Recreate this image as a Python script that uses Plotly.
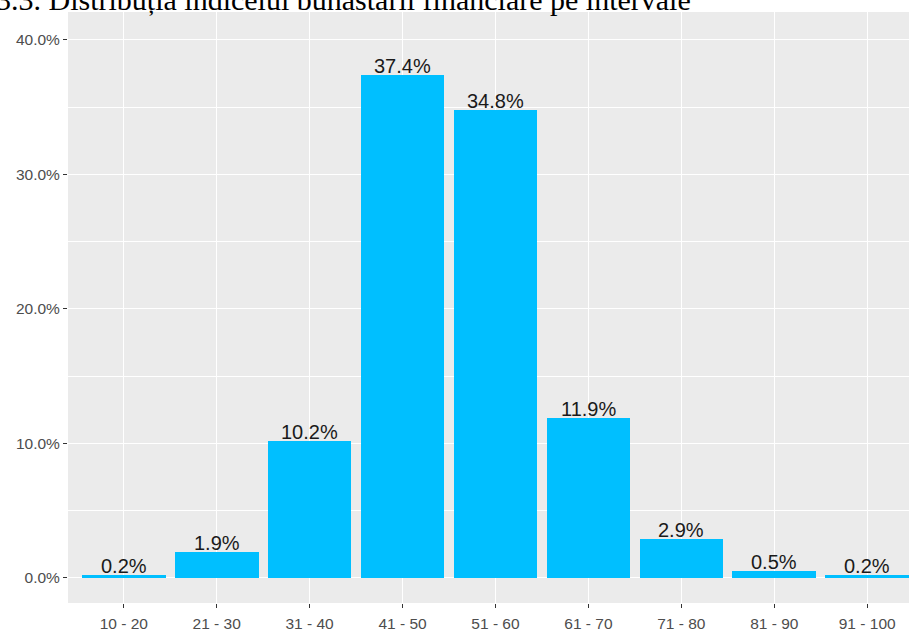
import plotly.graph_objects as go

categories = ["10 - 20", "21 - 30", "31 - 40", "41 - 50", "51 - 60", "61 - 70", "71 - 80", "81 - 90", "91 - 100"]
values = [0.2, 1.9, 10.2, 37.4, 34.8, 11.9, 2.9, 0.5, 0.2]
labels = [f"{v:.1f}%" for v in values]
y_ticks = [0, 10, 20, 30, 40]
y_tick_text = [f"{t:.1f}%" for t in y_ticks]
title_text = "3.3. Distribuția indicelui bunăstării financiare pe intervale"

W, H = 909, 632
L, R, T, B = 68, 0, 12, 29
plot_h = H - T - B
plot_w = W - L - R

fig = go.Figure()
fig.add_trace(go.Bar(
    x=list(range(len(categories))), y=values, width=0.9,
    marker=dict(color="#00BFFF", line=dict(width=0)),
    hoverinfo="skip",
))

for i, (v, lab) in enumerate(zip(values, labels)):
    fig.add_annotation(x=i, y=v, text=lab, showarrow=False, yanchor="bottom",
                       yshift=-4, font=dict(family="Arial, Liberation Sans", size=20, color="#1a1a1a"))

# title (cut off at the top like the reference)
fig.add_annotation(xref="paper", yref="paper", x=(693 - L) / plot_w, y=1 + (T - 18) / plot_h,
                   xanchor="right", yanchor="bottom", showarrow=False, text=title_text,
                   font=dict(family="Liberation Serif, Times New Roman", size=30, color="black"))

fig.update_layout(
    width=W, height=H,
    margin=dict(l=L, r=R, t=T, b=B, pad=0),
    paper_bgcolor="white", plot_bgcolor="#EBEBEB",
    showlegend=False, bargap=0,
    xaxis=dict(range=[-0.6, 8.45], tickmode="array", tickvals=list(range(len(categories))),
               ticktext=categories, showgrid=True, gridcolor="white", gridwidth=1.2,
               zeroline=False, ticks="outside", ticklen=4, tickcolor="#333333", tickwidth=1,
               ticklabelstandoff=2,
               tickfont=dict(family="Arial, Liberation Sans", size=15.5, color="#4D4D4D"), fixedrange=True),
    yaxis=dict(range=[-1.86, 42.08], tickmode="array", tickvals=y_ticks, ticktext=y_tick_text,
               showgrid=True, gridcolor="white", gridwidth=1.2, zeroline=False,
               minor=dict(tickvals=[5, 15, 25, 35], showgrid=True, gridcolor="white", gridwidth=0.6, ticks=""),
               ticks="outside", ticklen=4, tickcolor="#333333", tickwidth=1,
               tickfont=dict(family="Arial, Liberation Sans", size=15.5, color="#4D4D4D"), fixedrange=True),
)

fig.write_html("out.html", config={"displayModeBar": False},
               post_script="document.body.style.margin='0';document.body.style.overflow='hidden';")
